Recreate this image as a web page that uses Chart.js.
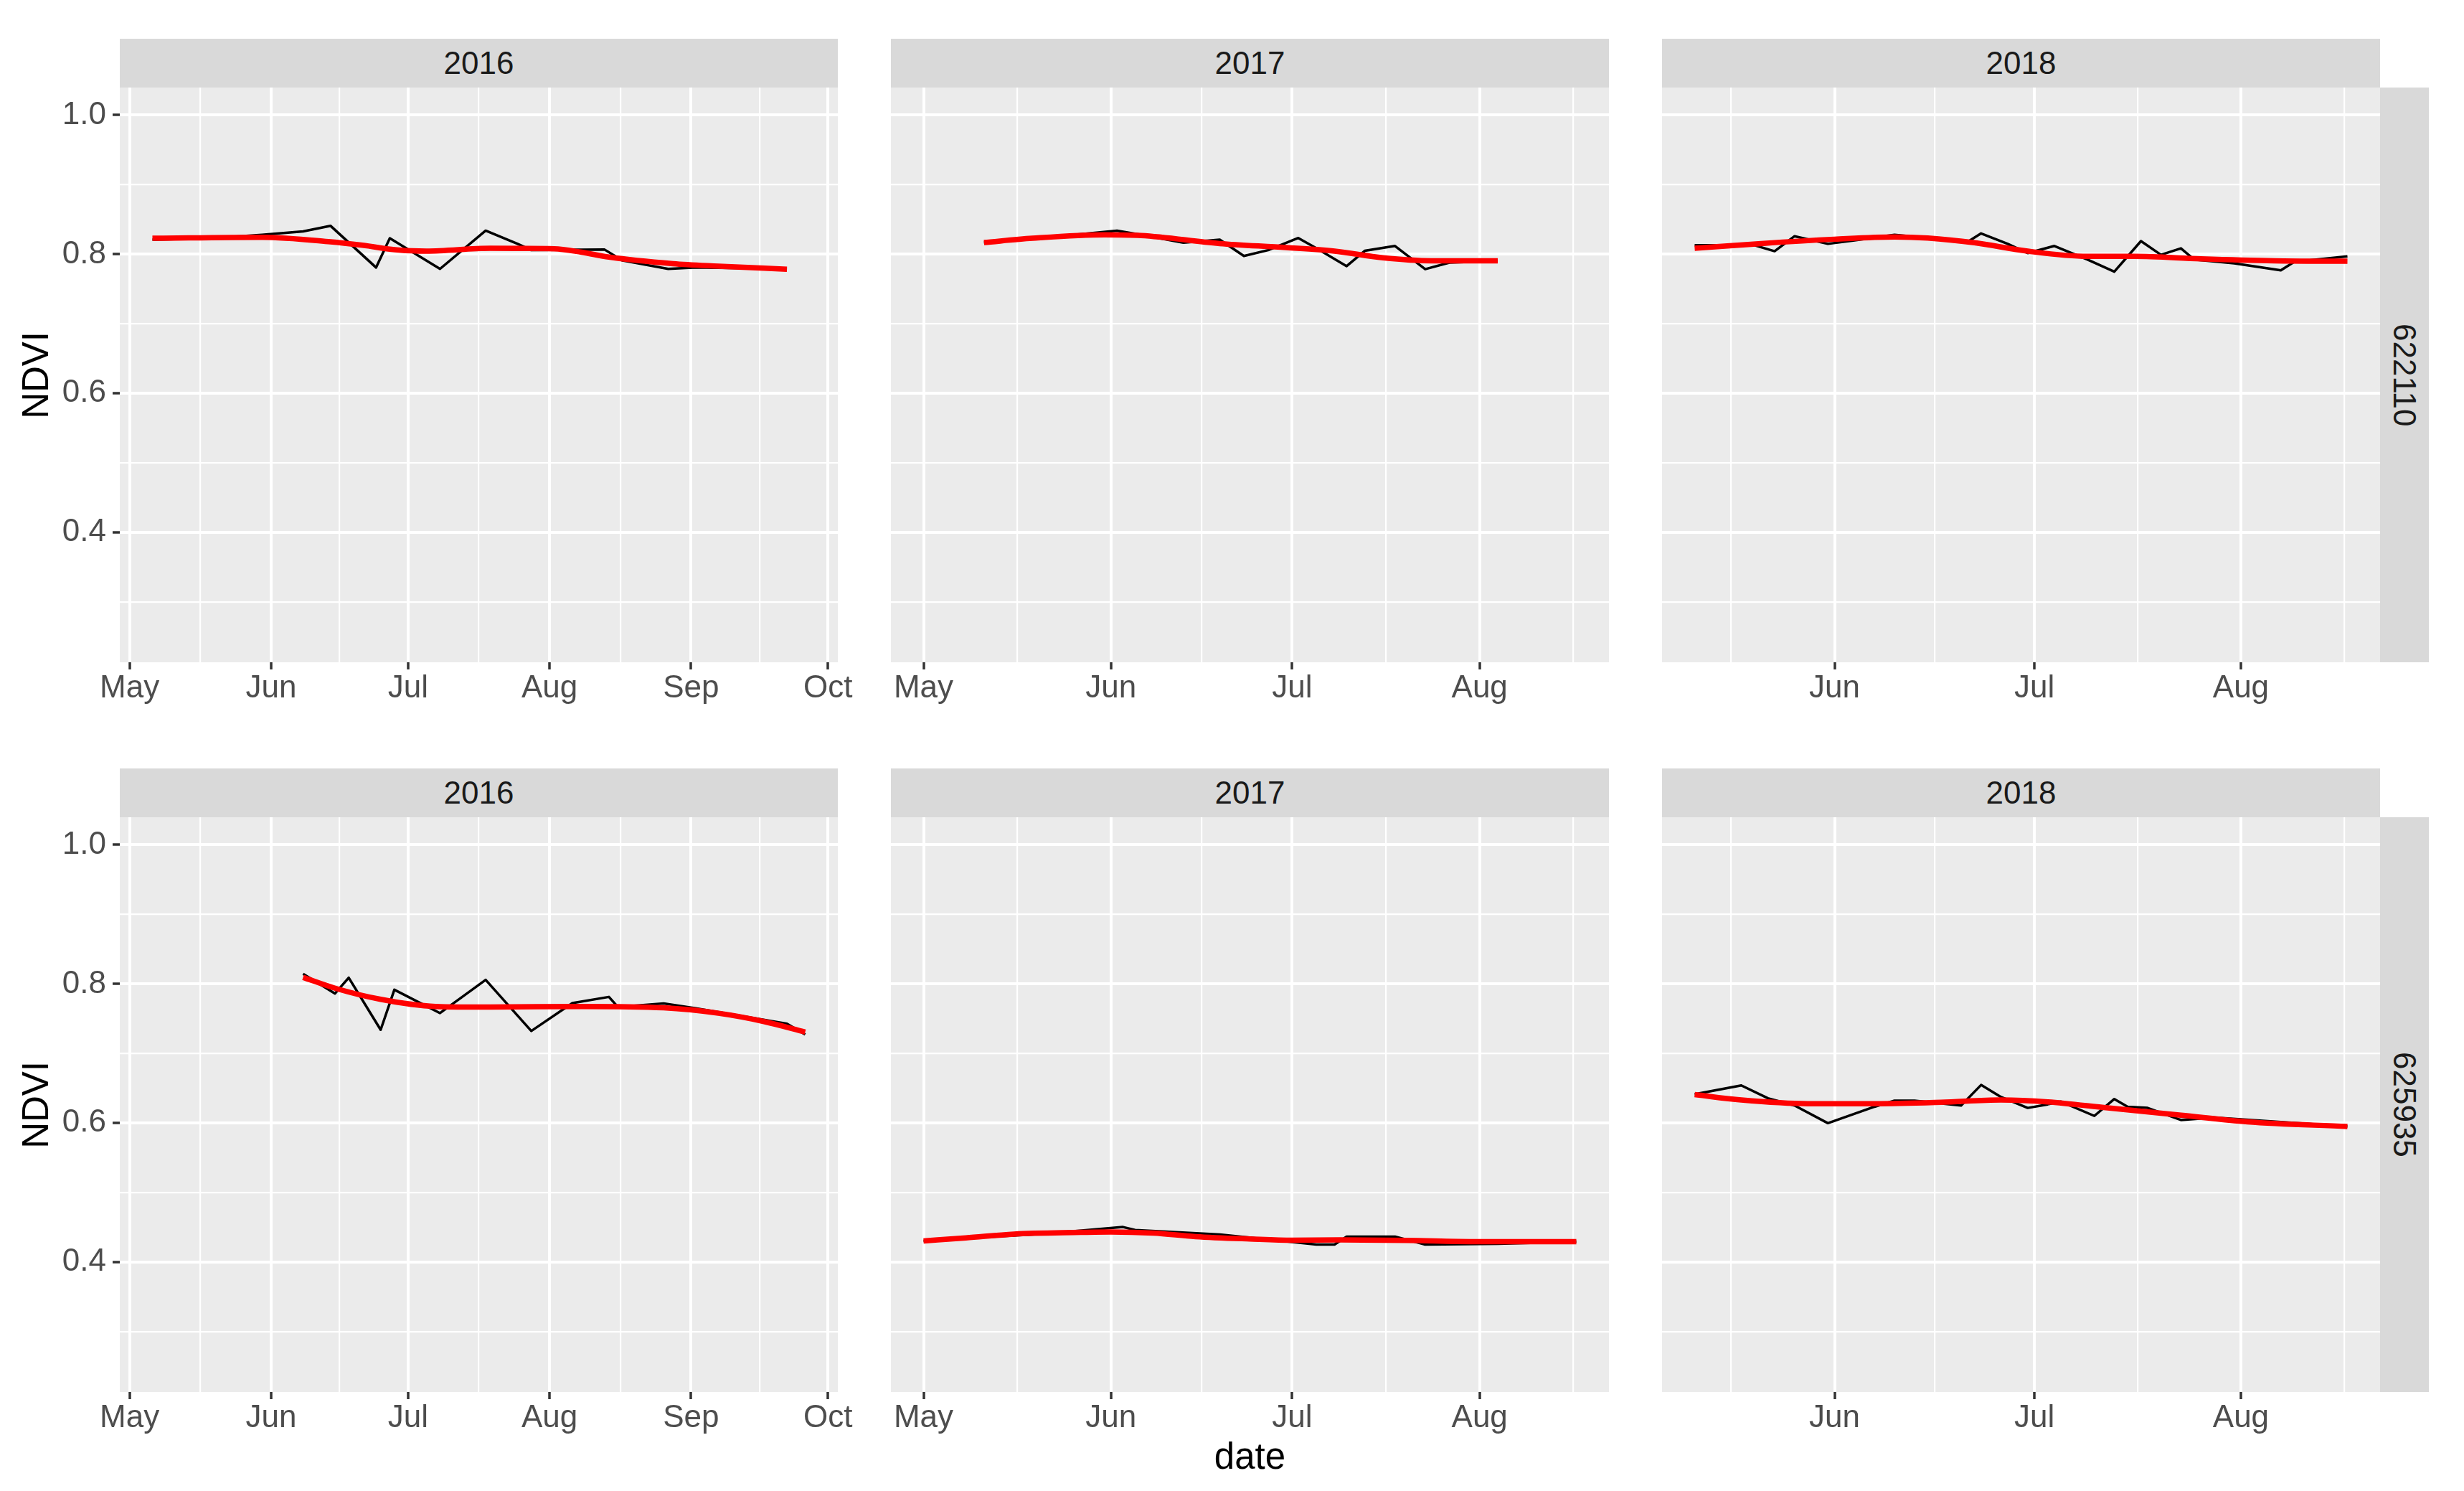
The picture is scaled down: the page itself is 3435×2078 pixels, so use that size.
<!DOCTYPE html>
<html>
<head>
<meta charset="utf-8">
<script src="https://cdn.jsdelivr.net/npm/chart.js@4.4.1/dist/chart.umd.min.js"></script>
<style>
html,body{margin:0;padding:0;background:#fff;}
body{width:3435px;height:2078px;position:relative;overflow:hidden;font-family:"Liberation Sans",Arial,sans-serif;}
.strip{position:absolute;background:#D9D9D9;color:#1A1A1A;font-size:44px;line-height:44px;display:flex;align-items:center;justify-content:center;}
.vtext{writing-mode:vertical-rl;}
.title{position:absolute;color:#000;font-size:51px;line-height:51px;display:flex;align-items:center;justify-content:center;white-space:nowrap;}
canvas{position:absolute;}
</style>
</head>
<body>
<script>
// ---------------- data ----------------
const YEARS = [2016, 2017, 2018];
const SITES = ['622110', '625935'];
const MONTHS = ['Jan','Feb','Mar','Apr','May','Jun','Jul','Aug','Sep','Oct','Nov','Dec'];
const Y_MAJOR = [0.4, 0.6, 0.8, 1.0];
const Y_MINOR = [0.3, 0.5, 0.7, 0.9];
const Y_LIMITS = [0.2136, 1.0397];
const X_TITLE = 'date';
const Y_TITLE = 'NDVI';

// site 622110
const dates_622110_2016 = ['05-06','05-19','05-30','06-08','06-14','06-24','06-27','07-08','07-18','07-25','07-28','08-13','08-17','08-27','09-02','09-22'];
const ndvi_622110_2016  = [0.821,0.823,0.828,0.833,0.841,0.781,0.823,0.779,0.834,0.815,0.806,0.807,0.791,0.779,0.781,0.779];
const smoothDates_622110_2016 = ['05-06','05-30','06-14','06-21','06-29','07-05','07-19','08-02','08-08','08-14','08-28','09-07','09-22'];
const smooth_622110_2016      = [0.823,0.8245,0.818,0.813,0.806,0.8045,0.8086,0.808,0.803,0.796,0.7866,0.783,0.7786];

const dates_622110_2017 = ['05-11','05-21','06-02','06-06','06-13','06-19','06-23','06-27','07-02','07-05','07-10','07-13','07-18','07-23','07-27','08-04'];
const ndvi_622110_2017  = [0.817,0.824,0.834,0.828,0.8166,0.821,0.7976,0.806,0.8234,0.8086,0.783,0.805,0.812,0.7786,0.788,0.7907];
const smoothDates_622110_2017 = ['05-11','05-19','05-31','06-06','06-19','06-30','07-08','07-16','07-24','08-04'];
const smooth_622110_2017      = [0.817,0.823,0.828,0.827,0.8155,0.8097,0.8045,0.795,0.7907,0.7907];

const dates_622110_2018 = ['05-11','05-20','05-23','05-26','05-31','06-04','06-10','06-21','06-23','06-27','06-30','07-04','07-09','07-13','07-17','07-20','07-23','07-25','07-31','08-07','08-09','08-17'];
const ndvi_622110_2018  = [0.813,0.813,0.8045,0.826,0.815,0.820,0.828,0.818,0.830,0.815,0.8017,0.812,0.7924,0.775,0.819,0.7993,0.8086,0.7924,0.787,0.777,0.789,0.797];
const smoothDates_622110_2018 = ['05-11','05-21','06-01','06-10','06-15','06-22','06-30','07-09','07-16','07-26','08-06','08-17'];
const smooth_622110_2018      = [0.8086,0.8155,0.8217,0.825,0.8234,0.8166,0.8045,0.797,0.797,0.7934,0.7907,0.790];

// site 625935
const dates_625935_2016 = ['06-08','06-15','06-18','06-25','06-28','07-08','07-18','07-28','08-06','08-14','08-16','08-26','09-02','09-22','09-26'];
const ndvi_625935_2016  = [0.8147,0.7863,0.809,0.7342,0.7918,0.7582,0.806,0.7325,0.7726,0.7815,0.7668,0.772,0.765,0.743,0.7274];
const smoothDates_625935_2016 = ['06-08','06-15','06-25','07-07','07-19','08-08','08-26','09-07','09-17','09-26'];
const smooth_625935_2016      = [0.8096,0.794,0.778,0.7678,0.7668,0.7678,0.7658,0.758,0.746,0.731];

const dates_625935_2017 = ['05-01','05-11','05-21','06-03','06-05','06-19','07-05','07-08','07-10','07-18','07-23','08-04','08-17'];
const ndvi_625935_2017  = [0.4308,0.436,0.441,0.4507,0.4465,0.440,0.4255,0.4255,0.437,0.437,0.4255,0.4266,0.4297];
const smoothDates_625935_2017 = ['05-01','05-08','05-16','05-27','06-01','06-08','06-15','06-24','07-01','07-09','07-20','07-31','08-17'];
const smooth_625935_2017      = [0.4308,0.435,0.4406,0.443,0.4437,0.442,0.437,0.4336,0.4318,0.4322,0.4315,0.4297,0.4297];

const dates_625935_2018 = ['05-11','05-18','05-22','05-26','05-31','06-07','06-10','06-13','06-20','06-23','06-26','06-30','07-03','07-05','07-10','07-13','07-15','07-18','07-23','07-28','08-17'];
const ndvi_625935_2018  = [0.6417,0.6542,0.6358,0.6253,0.600,0.6236,0.6323,0.6323,0.6253,0.6549,0.6375,0.6219,0.627,0.631,0.6104,0.6347,0.6236,0.6219,0.6045,0.608,0.5951];
const smoothDates_625935_2018 = ['05-11','05-18','05-28','06-07','06-17','06-26','07-03','07-12','07-23','08-02','08-17'];
const smooth_625935_2018      = [0.641,0.6333,0.628,0.628,0.630,0.6333,0.6306,0.6219,0.6115,0.602,0.5951];

const PANELS = [
  [ [dates_622110_2016, ndvi_622110_2016, smoothDates_622110_2016, smooth_622110_2016],
    [dates_622110_2017, ndvi_622110_2017, smoothDates_622110_2017, smooth_622110_2017],
    [dates_622110_2018, ndvi_622110_2018, smoothDates_622110_2018, smooth_622110_2018] ],
  [ [dates_625935_2016, ndvi_625935_2016, smoothDates_625935_2016, smooth_625935_2016],
    [dates_625935_2017, ndvi_625935_2017, smoothDates_625935_2017, smooth_625935_2017],
    [dates_625935_2018, ndvi_625935_2018, smoothDates_625935_2018, smooth_625935_2018] ]
];

// ---------------- layout ----------------
const PANEL_LEFT = [167, 1242, 2317];
const PANEL_W = 1001;
const PANEL_TOP = [122, 1139];
const PANEL_H = 801;
const STRIP = 68;
const XAXIS_H = 90;
const PAD = 60;
const FONT = '"Liberation Sans", Arial, sans-serif';

function dayOf(year, md) {
  const p = md.split('-').map(Number);
  return (Date.UTC(year, p[0] - 1, p[1]) - Date.UTC(year, 0, 1)) / 86400000;
}
function monthStart(year, m) {
  return (Date.UTC(year, m, 1) - Date.UTC(year, 0, 1)) / 86400000;
}

// x range per column from the data (ggplot-style 5% expansion)
const XRANGE = YEARS.map((yr, c) => {
  let lo = Infinity, hi = -Infinity;
  for (let r = 0; r < SITES.length; r++) {
    PANELS[r][c][0].concat(PANELS[r][c][2]).forEach(md => {
      const d = dayOf(yr, md); lo = Math.min(lo, d); hi = Math.max(hi, d);
    });
  }
  const e = (hi - lo) * 0.05;
  return [lo - e, hi + e];
});

function xTickList(year, min, max) {
  const majors = [];
  for (let m = -1; m <= 12; m++) majors.push({ value: monthStart(year, m), isMajor: true, month: (m + 12) % 12 });
  const ticks = [];
  for (let i = 0; i < majors.length; i++) {
    ticks.push(majors[i]);
    if (i < majors.length - 1) ticks.push({ value: (majors[i].value + majors[i + 1].value) / 2, isMajor: false });
  }
  return ticks.filter(t => t.value >= min && t.value <= max);
}

const panelBg = {
  id: 'panelBg',
  beforeDraw(chart) {
    const a = chart.chartArea, ctx = chart.ctx;
    ctx.save();
    ctx.fillStyle = '#EBEBEB';
    ctx.fillRect(a.left, a.top, a.right - a.left, a.bottom - a.top);
    ctx.restore();
  }
};

function addDiv(cls, style, text, inner) {
  const d = document.createElement('div');
  d.className = cls;
  Object.assign(d.style, style);
  if (inner) {
    const s = document.createElement('span');
    s.className = inner.cls || '';
    Object.assign(s.style, inner.style || {});
    s.textContent = text;
    d.appendChild(s);
  } else d.textContent = text;
  document.body.appendChild(d);
}

for (let r = 0; r < SITES.length; r++) {
  for (let c = 0; c < YEARS.length; c++) {
    const year = YEARS[c];
    const [dts, vals, sdts, svals] = PANELS[r][c];
    const yW = c === 0 ? PANEL_LEFT[0] : 0;
    const padL = c === 0 ? 0 : PAD;
    const cLeft = c === 0 ? 0 : PANEL_LEFT[c] - PAD;
    const cW = (c === 0 ? yW : PAD) + PANEL_W + PAD;
    const cH = PANEL_H + XAXIS_H;
    const canvas = document.createElement('canvas');
    canvas.width = cW; canvas.height = cH;
    canvas.style.left = cLeft + 'px'; canvas.style.top = PANEL_TOP[r] + 'px';
    canvas.style.width = cW + 'px'; canvas.style.height = cH + 'px';
    document.body.appendChild(canvas);
    const [xmin, xmax] = XRANGE[c];

    new Chart(canvas.getContext('2d'), {
      type: 'line',
      data: {
        datasets: [
          { data: sdts.map((d, i) => ({ x: dayOf(year, d), y: svals[i] })),
            borderColor: '#FF0000', borderWidth: 7.5, pointRadius: 0, fill: false,
            cubicInterpolationMode: 'monotone', tension: 0.4, order: 0 },
          { data: dts.map((d, i) => ({ x: dayOf(year, d), y: vals[i] })),
            borderColor: '#000000', borderWidth: 3.5, pointRadius: 0, fill: false,
            tension: 0, borderJoinStyle: 'round', order: 1 }
        ]
      },
      options: {
        responsive: false, animation: false, devicePixelRatio: 1,
        layout: { padding: { left: padL, right: PAD, top: 0, bottom: 0 } },
        plugins: { legend: { display: false }, tooltip: { enabled: false }, title: { display: false } },
        scales: {
          x: {
            type: 'linear', min: xmin, max: xmax,
            border: { display: false },
            afterBuildTicks: s => { s.ticks = xTickList(year, xmin, xmax); },
            afterFit: s => { s.height = XAXIS_H; s.paddingLeft = 0; s.paddingRight = 0; },
            grid: {
              color: '#FFFFFF',
              lineWidth: ctx => (ctx.tick && ctx.tick.isMajor) ? 4 : 2.2,
              tickColor: ctx => (ctx.tick && ctx.tick.isMajor) ? '#333333' : 'rgba(0,0,0,0)',
              tickWidth: 3.5, tickLength: 10, drawTicks: true
            },
            ticks: {
              autoSkip: false, maxRotation: 0, minRotation: 0, padding: 0,
              color: '#4D4D4D', font: { family: FONT, size: 44, lineHeight: 1.2 },
              callback: (v, i, t) => t[i].isMajor ? MONTHS[t[i].month] : ''
            }
          },
          y: {
            type: 'linear', min: Y_LIMITS[0], max: Y_LIMITS[1],
            border: { display: false },
            afterBuildTicks: s => {
              s.ticks = Y_MINOR.concat(Y_MAJOR).sort((a, b) => a - b)
                .map(v => ({ value: v, isMajor: Y_MAJOR.indexOf(v) >= 0 }));
            },
            afterFit: s => { s.width = yW; s.paddingTop = 0; s.paddingBottom = 0; },
            grid: {
              color: '#FFFFFF',
              lineWidth: ctx => (ctx.tick && ctx.tick.isMajor) ? 4 : 2.2,
              tickColor: ctx => (ctx.tick && ctx.tick.isMajor) ? '#333333' : 'rgba(0,0,0,0)',
              tickWidth: 3.5, tickLength: 10, drawTicks: c === 0
            },
            ticks: {
              display: c === 0, autoSkip: false, padding: 9,
              color: '#4D4D4D', font: { family: FONT, size: 44, lineHeight: 1.2 },
              callback: (v, i, t) => t[i].isMajor ? v.toFixed(1) : ''
            }
          }
        }
      },
      plugins: [panelBg]
    });

    // top strip with year
    addDiv('strip', { left: PANEL_LEFT[c] + 'px', top: (PANEL_TOP[r] - STRIP) + 'px',
      width: PANEL_W + 'px', height: STRIP + 'px' }, String(year));
  }
  // right strip with site id
  addDiv('strip', { left: (PANEL_LEFT[2] + PANEL_W) + 'px', top: PANEL_TOP[r] + 'px',
    width: STRIP + 'px', height: PANEL_H + 'px' }, SITES[r], { cls: 'vtext' });
  // y axis title
  addDiv('title', { left: '0px', top: PANEL_TOP[r] + 'px', width: '98px', height: PANEL_H + 'px' },
    Y_TITLE, { cls: 'vtext', style: { transform: 'rotate(180deg)' } });
}
// x axis title
addDiv('title', { left: PANEL_LEFT[0] + 'px', top: '2004px',
  width: (PANEL_LEFT[2] + PANEL_W - PANEL_LEFT[0]) + 'px', height: '51px' }, X_TITLE);
</script>
</body>
</html>
